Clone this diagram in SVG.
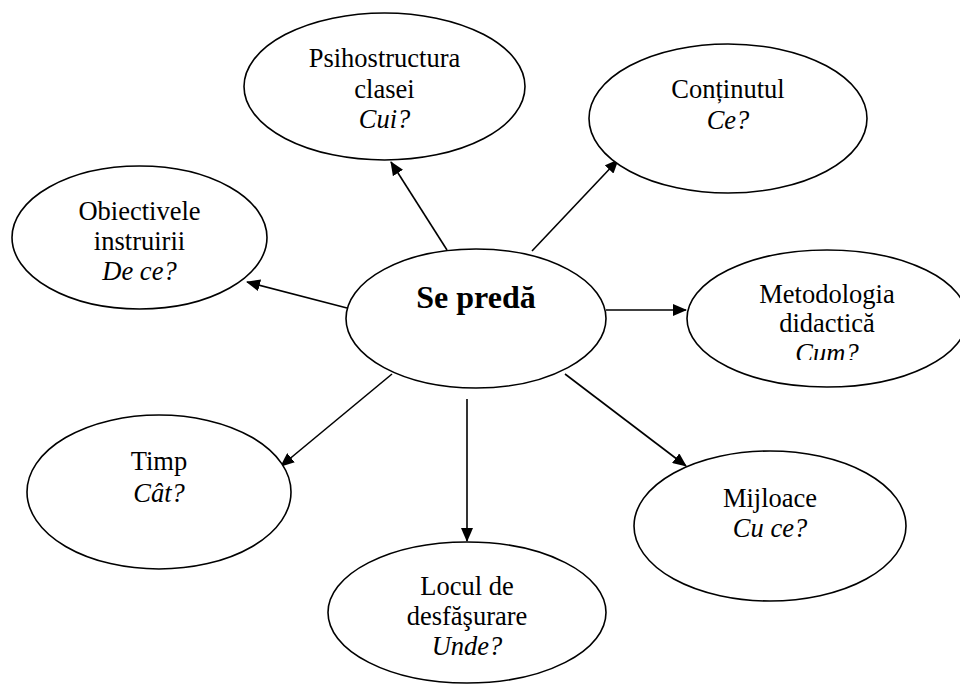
<svg xmlns="http://www.w3.org/2000/svg" width="960" height="684" viewBox="0 0 960 684">
  <style>
    .node { fill: #ffffff; stroke: #000000; stroke-width: 1.6; }
    .lbl { font-family: "Liberation Serif", "Times New Roman", serif; font-size: 26.5px; fill: #000000; text-anchor: middle; }
    .q { font-style: italic; }
    .main { font-family: "Liberation Serif", "Times New Roman", serif; font-size: 32px; font-weight: bold; fill: #000000; text-anchor: middle; }
    .edge { stroke: #000000; stroke-width: 1.6; fill: none; marker-end: url(#arrow); }
  </style>
  <defs>
    <marker id="arrow" markerUnits="userSpaceOnUse" markerWidth="14" markerHeight="12" refX="13" refY="6" orient="auto">
      <path d="M0,0 L14,6 L0,12 Z" fill="#000000"/>
    </marker>
    <clipPath id="clipCum">
      <rect x="680" y="240" width="280" height="120"/>
    </clipPath>
  </defs>

  <rect x="0" y="0" width="960" height="684" fill="#ffffff"/>

  <g id="connectors">
    <line class="edge" x1="447" y1="250" x2="391" y2="162"/>
    <line class="edge" x1="532" y1="251" x2="618" y2="160"/>
    <line class="edge" x1="347" y1="308" x2="247" y2="282"/>
    <line class="edge" x1="606" y1="310" x2="686" y2="310"/>
    <line class="edge" x1="392" y1="374" x2="281" y2="466"/>
    <line class="edge" x1="565" y1="374" x2="686" y2="466"/>
    <line class="edge" x1="467" y1="399" x2="467" y2="541"/>
  </g>

  <g id="se-preda">
    <ellipse class="node" cx="476" cy="318.5" rx="130" ry="69.5"/>
    <text class="main" x="476" y="308">Se predă</text>
  </g>

  <g id="psihostructura">
    <ellipse class="node" cx="384.5" cy="86.5" rx="140.5" ry="73.5"/>
    <text class="lbl" x="384.5" y="67">Psihostructura</text>
    <text class="lbl" x="384.5" y="98">clasei</text>
    <text class="lbl q" x="384.5" y="128">Cui?</text>
  </g>

  <g id="continutul">
    <ellipse class="node" cx="728" cy="118.5" rx="139" ry="74.5"/>
    <text class="lbl" x="728" y="98">Conținutul</text>
    <text class="lbl q" x="728" y="129">Ce?</text>
  </g>

  <g id="obiectivele">
    <ellipse class="node" cx="139.5" cy="237.5" rx="127.5" ry="71.5"/>
    <text class="lbl" x="139.5" y="220">Obiectivele</text>
    <text class="lbl" x="139.5" y="250">instruirii</text>
    <text class="lbl q" x="139.5" y="280">De ce?</text>
  </g>

  <g id="metodologia">
    <ellipse class="node" cx="827" cy="318.5" rx="140" ry="68.5"/>
    <text class="lbl" x="827" y="303">Metodologia</text>
    <text class="lbl" x="827" y="332">didactică</text>
    <text class="lbl q" x="827" y="362" clip-path="url(#clipCum)">Cum?</text>
  </g>

  <g id="timp">
    <ellipse class="node" cx="159" cy="492" rx="132" ry="77"/>
    <text class="lbl" x="159" y="470">Timp</text>
    <text class="lbl q" x="159" y="502">Cât?</text>
  </g>

  <g id="mijloace">
    <ellipse class="node" cx="770" cy="526" rx="136" ry="75"/>
    <text class="lbl" x="770" y="507">Mijloace</text>
    <text class="lbl q" x="770" y="537">Cu ce?</text>
  </g>

  <g id="locul">
    <ellipse class="node" cx="467" cy="612.5" rx="139" ry="70.5"/>
    <text class="lbl" x="467" y="595">Locul de</text>
    <text class="lbl" x="467" y="625">desfăşurare</text>
    <text class="lbl q" x="467" y="655">Unde?</text>
  </g>
</svg>
